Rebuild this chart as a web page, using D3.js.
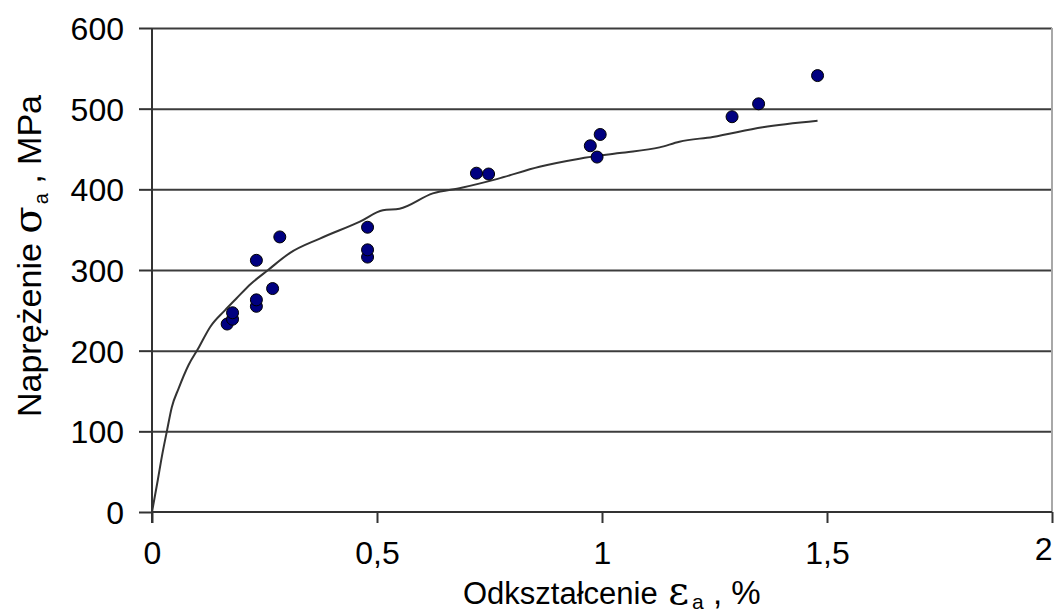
<!DOCTYPE html>
<html>
<head>
<meta charset="utf-8">
<script src="https://cdn.jsdelivr.net/npm/d3@7"></script>
<style>
  html, body { margin: 0; padding: 0; background: #fff; }
  svg text { font-family: Arial, "Liberation Sans", sans-serif; fill: #000; }
  .grid line { stroke: #3c3c3c; stroke-width: 2; }
  .grid path { display: none; }
  .axis path, .axis line { stroke: #333; stroke-width: 2; }
  .axis text { font-size: 32px; }
</style>
</head>
<body>
<div id="chart"></div>
<script>
// --- Data ---
const yTicks = [0, 100, 200, 300, 400, 500, 600];
const xTicks = [0, 0.5, 1, 1.5, 2];
const xTickLabels = ['0', '0,5', '1', '1,5', '2'];

// measured points: strain %, stress MPa
const strainPts = [0.167, 0.179, 0.179, 0.232, 0.232, 0.232, 0.268, 0.284,
                   0.479, 0.479, 0.479, 0.721, 0.748, 0.974, 0.989, 0.996,
                   1.289, 1.348, 1.479];
const stressPts = [233, 239, 247, 255, 263, 312, 277, 341,
                   316, 325, 353, 420, 419, 454, 440, 468,
                   490, 506, 541];

// fitted curve
const curveStrain = [0, 0.013, 0.022, 0.033, 0.044, 0.059, 0.081, 0.103, 0.13,
                     0.162, 0.188, 0.22, 0.258, 0.306, 0.373, 0.462, 0.513, 0.55,
                     0.624, 0.688, 0.768, 0.861, 0.95, 1.039, 1.128, 1.172, 1.246,
                     1.357, 1.479];
const curveStress = [0, 40, 69, 100, 130, 153, 182, 203, 230,
                     250, 265, 283, 300, 321, 339, 360, 374, 376,
                     395, 402, 413, 428, 438, 445, 452, 459, 465,
                     477, 485];

// --- Layout ---
const W = 1055, H = 612;
const margin = { top: 28, right: 3, bottom: 100, left: 152 };

const svg = d3.select('#chart').append('svg')
    .attr('width', W)
    .attr('height', H);

const x = d3.scaleLinear().domain([0, 2]).range([margin.left, W - margin.right]);
const y = d3.scaleLinear().domain([0, 600]).range([H - margin.bottom, margin.top]);

// --- Gridlines ---
svg.append('g')
    .attr('class', 'grid')
    .attr('transform', `translate(${margin.left},0)`)
    .call(d3.axisLeft(y).tickValues(yTicks.slice(1)).tickSize(-(x(2) - x(0))).tickFormat(''));

// right plot border
svg.append('line')
    .attr('x1', x(2)).attr('x2', x(2))
    .attr('y1', y(600)).attr('y2', y(0))
    .attr('stroke', '#a8a8a8').attr('stroke-width', 2);

// --- Axes ---
const yAxis = svg.append('g')
    .attr('class', 'axis')
    .attr('transform', `translate(${margin.left},0)`)
    .call(d3.axisLeft(y).tickValues(yTicks).tickSize(13).tickSizeOuter(0).tickPadding(15));
yAxis.select('.domain').attr('d', `M0,${y(600)}V${y(0) + 11}`);
yAxis.selectAll('text').attr('dy', '0.36em');

const xAxis = svg.append('g')
    .attr('class', 'axis')
    .attr('transform', `translate(0,${y(0)})`)
    .call(d3.axisBottom(x).tickValues(xTicks).tickSize(11).tickSizeOuter(0).tickPadding(18)
        .tickFormat((d, i) => xTickLabels[i]));
xAxis.select('.domain').attr('d', `M${x(0)},0H${x(2)}`);
xAxis.selectAll('.tick text').attr('dy', '0.71em')
    .filter((d, i) => i === xTicks.length - 1)
    .attr('text-anchor', 'end').attr('x', 0).attr('y', 25);

// --- Fitted curve ---
const curveData = curveStrain.map((d, i) => [d, curveStress[i]]);
svg.append('path')
    .datum(curveData)
    .attr('fill', 'none')
    .attr('stroke', '#333')
    .attr('stroke-width', 2)
    .attr('d', d3.line().x(d => x(d[0])).y(d => y(d[1])).curve(d3.curveMonotoneX));

// --- Measured points ---
svg.selectAll('.pt')
    .data(strainPts.map((d, i) => [d, stressPts[i]]))
    .enter().append('circle')
    .attr('class', 'pt')
    .attr('cx', d => x(d[0]))
    .attr('cy', d => y(d[1]))
    .attr('r', 6)
    .attr('fill', '#000080')
    .attr('stroke', '#000')
    .attr('stroke-width', 1);

// --- Axis titles ---
const xt = svg.append('text')
    .attr('x', 463).attr('y', 604)
    .attr('font-size', 31);
xt.append('tspan').text('Odkształcenie ');
xt.append('tspan').attr('font-family', '"DejaVu Serif", serif').attr('font-size', 40).attr('dx', 2).text('ε');
xt.append('tspan').attr('font-size', 21).attr('dy', 5).attr('dx', 3).text('a');
xt.append('tspan').attr('dy', -5).attr('font-size', 33).text(' , %');

const yt = svg.append('text')
    .attr('transform', 'translate(41,417) rotate(-90)')
    .attr('font-size', 34);
yt.append('tspan').text('Naprężenie ');
yt.append('tspan').attr('font-family', '"DejaVu Serif", serif').attr('font-size', 40).text('σ');
yt.append('tspan').attr('font-size', 20).attr('dy', 7).attr('dx', 2).text('a');
yt.append('tspan').attr('dy', -7).text(' ,  MPa');
</script>
</body>
</html>
